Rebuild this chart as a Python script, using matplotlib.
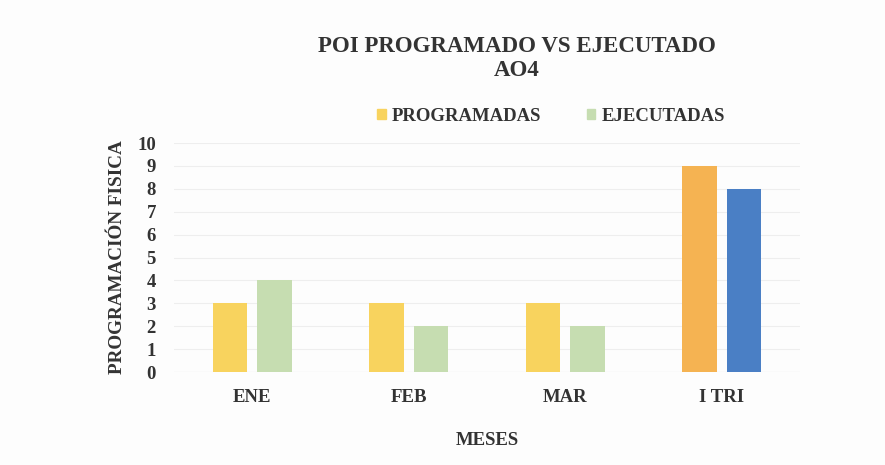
import matplotlib
matplotlib.use("Agg")
import matplotlib.pyplot as plt
import numpy as np
from matplotlib.patches import Patch

categories = ["ENE", "FEB", "MAR", "I TRI"]
programadas = [3, 3, 3, 9]
ejecutadas = [4, 2, 2, 8]
prog_colors = ["#F8D35E", "#F8D35E", "#F8D35E", "#F5B352"]
ejec_colors = ["#C6DDB1", "#C6DDB1", "#C6DDB1", "#4A7FC5"]

plt.rcParams['font.family'] = ['Liberation Serif', 'DejaVu Serif']

fig = plt.figure(figsize=(8.85, 4.65), dpi=100)
fig.patch.set_facecolor("#FDFDFD")
ax = fig.add_axes([174/885, 1-372/465, (800-174)/885, (372-143)/465])
ax.set_facecolor("#FDFDFD")

x = np.arange(len(categories))
w = 0.22
off = 0.143
ax.bar(x - off, programadas, w, color=prog_colors, zorder=3)
ax.bar(x + off, ejecutadas, w, color=ejec_colors, zorder=3)

ax.set_xlim(-0.5, 3.5)
ax.set_ylim(0, 10)
ax.set_yticks(range(0, 11))
ax.set_xticks(x)
ax.set_xticklabels(categories)
ax.tick_params(axis='both', length=0, labelsize=13.5)
for lab in ax.get_xticklabels() + ax.get_yticklabels():
    lab.set_fontweight('bold')
    lab.set_color('#333333')
ax.tick_params(axis='x', pad=12)
ax.tick_params(axis='y', pad=13)
ax.grid(axis='y', color='#EEEEEE', linewidth=0.8, zorder=0)
for s in ax.spines.values():
    s.set_visible(False)
ax.axhline(0, color='#E6E6E6', linewidth=0.8, zorder=1)

ax.set_ylabel("PROGRAMACIÓN FISICA", fontsize=13.8, fontweight='bold', color='#333333')
ax.yaxis.set_label_coords(-(174 - 126) / (800 - 174), 0.5)
ax.set_xlabel("MESES", fontsize=13.5, fontweight='bold', color='#333333', labelpad=19)

fig.text(517/885, 1-47/465, "POI PROGRAMADO VS EJECUTADO", ha='center', va='center',
         fontsize=16.5, fontweight='bold', color='#333333')
fig.text(517/885, 1-70/465, "AO4", ha='center', va='center',
         fontsize=16.5, fontweight='bold', color='#333333')

handles = [Patch(color="#F8D35E", label="PROGRAMADAS"), Patch(color="#C6DDB1", label="EJECUTADAS")]
leg = fig.legend(handles=handles, loc='center', bbox_to_anchor=(551/885, 1-116/465), ncol=2,
                 frameon=False, handlelength=0.45, handleheight=0.45,
                 handletextpad=0.35, columnspacing=2.4, prop={'weight': 'bold', 'size': 13.5})
for t in leg.get_texts():
    t.set_color('#333333')

fig.savefig("out.png", dpi=100, facecolor=fig.get_facecolor())
